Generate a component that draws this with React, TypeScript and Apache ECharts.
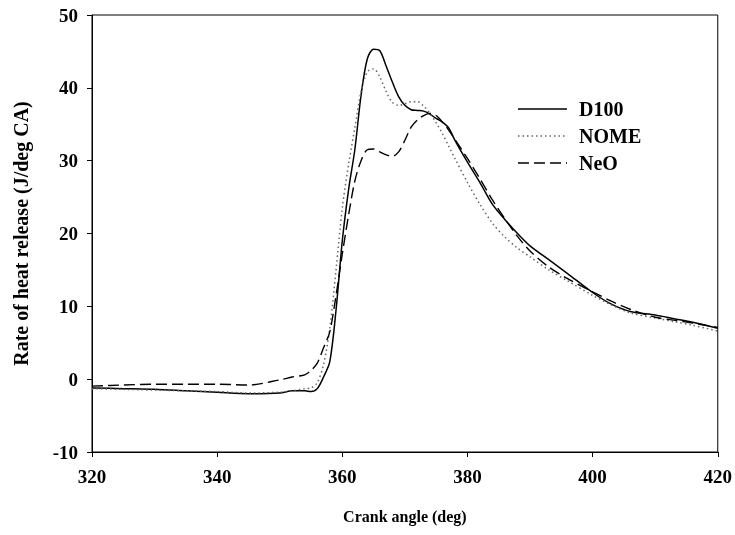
import React, { useEffect, useRef } from "react";
import * as echarts from "echarts";

const angles = [320, 325, 330, 335, 340, 345, 350, 352, 354, 355, 356, 357, 358, 359, 360, 361, 362, 363, 364, 365, 366, 367, 368, 369, 370, 371, 372, 373, 374, 375, 376, 377, 378, 380, 382, 384, 386, 388, 390, 393, 396, 400, 403, 406, 410, 413, 416, 420];

const d100 = [-1.2, -1.3, -1.4, -1.6, -1.8, -2.0, -1.9, -1.6, -1.6, -1.7, -1.3, 0.3, 2.4, 9.5, 19.0, 26.0, 31.5, 39.0, 44.0, 45.3, 45.1, 43.0, 40.8, 38.8, 37.6, 37.0, 36.9, 36.8, 36.4, 35.8, 35.3, 34.5, 32.8, 29.8, 27.0, 24.0, 21.9, 20.0, 18.3, 16.4, 14.5, 11.9, 10.3, 9.3, 8.8, 8.3, 7.8, 7.0];

const nome = [-1.3, -1.4, -1.5, -1.6, -1.7, -1.9, -1.8, -1.6, -1.3, -1.2, -0.5, 2.0, 7.0, 15.0, 23.5, 29.5, 34.5, 39.5, 42.2, 42.6, 41.5, 39.5, 38.0, 37.6, 37.8, 38.1, 38.1, 37.5, 36.5, 35.2, 33.7, 32.0, 30.3, 27.0, 24.0, 21.4, 19.5, 18.0, 16.8, 15.0, 13.5, 11.5, 10.2, 9.1, 8.4, 7.9, 7.4, 6.6];

const neo = [-0.95, -0.8, -0.7, -0.7, -0.7, -0.8, -0.1, 0.3, 0.6, 1.2, 2.2, 4.3, 6.5, 11.5, 17.2, 22.5, 27.2, 30.0, 31.5, 31.6, 31.2, 30.8, 30.6, 31.2, 32.8, 34.6, 35.6, 36.2, 36.5, 36.2, 35.3, 34.2, 32.9, 30.3, 27.5, 24.6, 22.0, 19.6, 17.6, 15.4, 13.8, 12.0, 10.7, 9.6, 8.5, 8.1, 7.7, 7.1];

const seriesNames = ["D100", "NOME", "NeO"];
const xTitle = "Crank angle (deg)";
const yTitle = "Rate of heat release (J/deg CA)";

const FONT = "'Liberation Serif', 'Times New Roman', serif";

export default function App() {
  const ref = useRef<HTMLDivElement>(null);
  useEffect(() => {
    if (!ref.current) return;
    const chart = echarts.init(ref.current, undefined, { renderer: "svg" });
    const zip = (ys: number[]) => angles.map((a, i) => [a, ys[i]]);
    const styles = [
      { color: "#000", width: 1.5, type: "solid" as any },
      { color: "#666", width: 1.5, type: [1.5, 3] as any },
      { color: "#000", width: 1.4, type: [11, 5] as any },
    ];
    const sets = [d100, nome, neo];
    const legendX = 518;
    const legendY = [109, 136, 163];
    chart.setOption({
      animation: false,
      textStyle: { fontFamily: FONT },
      grid: {
        left: 92,
        right: 16,
        top: 15,
        bottom: 83,
        show: true,
        borderColor: "#000",
        borderWidth: 1,
      },
      xAxis: {
        type: "value",
        min: 320,
        max: 420,
        interval: 20,
        name: xTitle,
        nameLocation: "middle",
        nameGap: 56,
        nameTextStyle: { fontFamily: FONT, fontWeight: "bold", fontSize: 16, color: "#000" },
        axisLine: { show: true, onZero: false, lineStyle: { color: "#000", width: 1 } },
        axisTick: { show: true, inside: false, length: 5, lineStyle: { color: "#000" } },
        axisLabel: { fontFamily: FONT, fontWeight: "bold", fontSize: 19, color: "#000", margin: 15 },
        splitLine: { show: false },
      },
      yAxis: {
        type: "value",
        min: -10,
        max: 50,
        interval: 10,
        name: yTitle,
        nameLocation: "middle",
        nameGap: 61,
        nameTextStyle: { fontFamily: FONT, fontWeight: "bold", fontSize: 20, color: "#000" },
        axisLine: { show: true, onZero: false, lineStyle: { color: "#000", width: 1 } },
        axisTick: { show: true, inside: false, length: 5, lineStyle: { color: "#000" } },
        axisLabel: { fontFamily: FONT, fontWeight: "bold", fontSize: 19, color: "#000", margin: 14 },
        splitLine: { show: false },
      },
      series: sets.map((ys, i) => ({
        name: seriesNames[i],
        type: "line",
        data: zip(ys),
        showSymbol: false,
        smooth: 0.3,
        lineStyle: styles[i],
        itemStyle: { color: styles[i].color },
      })),
      graphic: seriesNames.flatMap((n, i) => [
        {
          type: "line",
          shape: { x1: legendX, y1: legendY[i], x2: legendX + 49, y2: legendY[i] },
          style: { stroke: styles[i].color, lineWidth: styles[i].width, lineDash: Array.isArray(styles[i].type) ? styles[i].type : null },
        },
        {
          type: "text",
          x: 579,
          y: legendY[i],
          style: {
            text: n,
            fontFamily: FONT,
            fontWeight: "bold",
            fontSize: 20,
            fill: "#000",
            textVerticalAlign: "middle",
            verticalAlign: "middle",
          },
        },
      ]),
    });
    return () => chart.dispose();
  }, []);
  return (
    <div
      ref={ref}
      style={{ position: "fixed", left: 0, top: 0, width: 735, height: 535 }}
    />
  );
}
